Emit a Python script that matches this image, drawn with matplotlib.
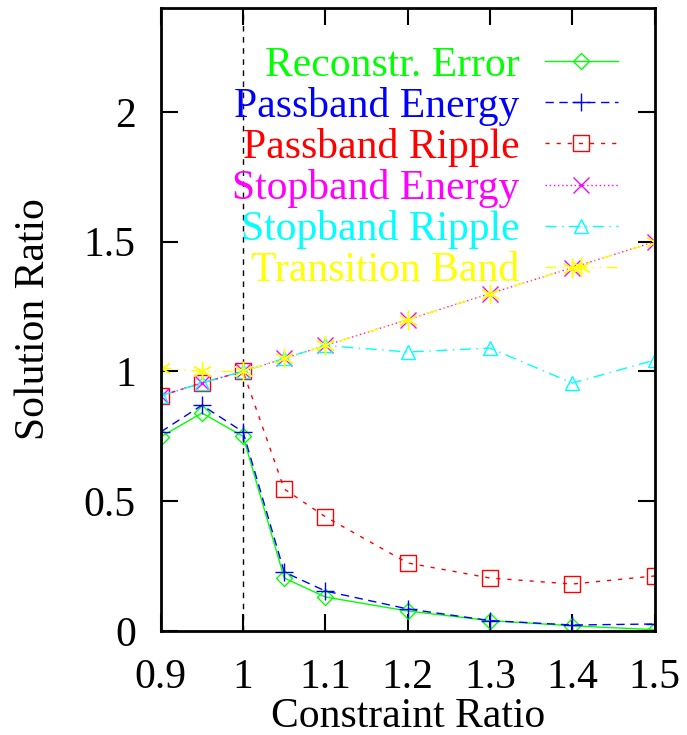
import matplotlib
matplotlib.use("Agg")
import matplotlib.pyplot as plt

# constraint ratio (x) and the solution ratios
constraint = [0.9, 0.95, 1.0, 1.05, 1.1, 1.2, 1.3, 1.4, 1.5]

reconstr_error = [0.748, 0.84, 0.75, 0.204, 0.131, 0.077, 0.04, 0.02, 0.005]
passband_energy = [0.767, 0.87, 0.767, 0.227, 0.154, 0.085, 0.04, 0.023, 0.027]
passband_ripple = [0.906, 0.956, 1.0, 0.547, 0.44, 0.262, 0.204, 0.181, 0.212]
stopband_energy = [0.906, 0.956, 1.0, 1.05, 1.1, 1.2, 1.3, 1.4, 1.5]
stopband_ripple = [0.906, 0.956, 1.0, 1.05, 1.1, 1.075, 1.09, 0.955, 1.044]
transition_band = [1.013, 1.0, 1.0, 1.05, 1.1, 1.2, 1.3, 1.4, 1.5]

labels = ["Reconstr. Error", "Passband Energy", "Passband Ripple",
          "Stopband Energy", "Stopband Ripple", "Transition Band"]
colors = ["#00ff00", "#0000ff", "#ff0000", "#ff00ff", "#00ffff", "#ffff00"]

xticks = [0.9, 1.0, 1.1, 1.2, 1.3, 1.4, 1.5]
xticklabels = ["0.9", "1", "1.1", "1.2", "1.3", "1.4", "1.5"]
yticks = [0, 0.5, 1, 1.5, 2]
yticklabels = ["0", "0.5", "1", "1.5", "2"]

plt.rcParams["font.family"] = ["Liberation Serif", "DejaVu Serif"]

fig = plt.figure(figsize=(6.87, 7.35), dpi=100)
ax = fig.add_axes([0.234, 0.1415, 0.719, 0.8475])

ax.axvline(1.0, color="black", lw=1, ls=(0, (4, 4)))

series = [reconstr_error, passband_energy, passband_ripple,
          stopband_energy, stopband_ripple, transition_band]
styles = ["-", (0, (6, 4)), (0, (3, 5)), (0, (1, 2)), (0, (8, 4, 1, 4)), (0, (8, 4, 1, 4, 1, 4))]
markers = ["D", "+", "s", "x", "^", (6, 2, 0)]
sizes = [8, 13, 11, 11, 10, 14]

for ys, lab, c, ls, m, ms in zip(series, labels, colors, styles, markers, sizes):
    ax.plot(constraint, ys, color=c, lw=1, ls=ls, marker=m, ms=ms,
            markerfacecolor="none", markeredgecolor=c, markeredgewidth=1,
            label=lab)

ax.set_xlim(0.9, 1.5)
ax.set_ylim(0, 2.4)
ax.set_xticks(xticks)
ax.set_xticklabels(xticklabels)
ax.set_yticks(yticks)
ax.set_yticklabels(yticklabels)
ax.tick_params(direction="in", length=12, width=1.5, labelsize=30,
               top=True, right=True)
ax.tick_params(axis="x", pad=19.5)
ax.tick_params(axis="y", pad=18)
for sp in ax.spines.values():
    sp.set_linewidth(2)

ax.set_xlabel("Constraint Ratio", fontsize=30, labelpad=0.5)
ax.set_ylabel("Solution Ratio", fontsize=30, labelpad=22)

leg = ax.legend(loc="upper right", bbox_to_anchor=(0.925, 0.939), frameon=False,
                markerfirst=False, fontsize=30, handlelength=1.75,
                handletextpad=0.6, labelspacing=0.053, borderpad=0,
                borderaxespad=0)
for t, c in zip(leg.get_texts(), colors):
    t.set_color(c)

fig.savefig("out.png", dpi=100)
